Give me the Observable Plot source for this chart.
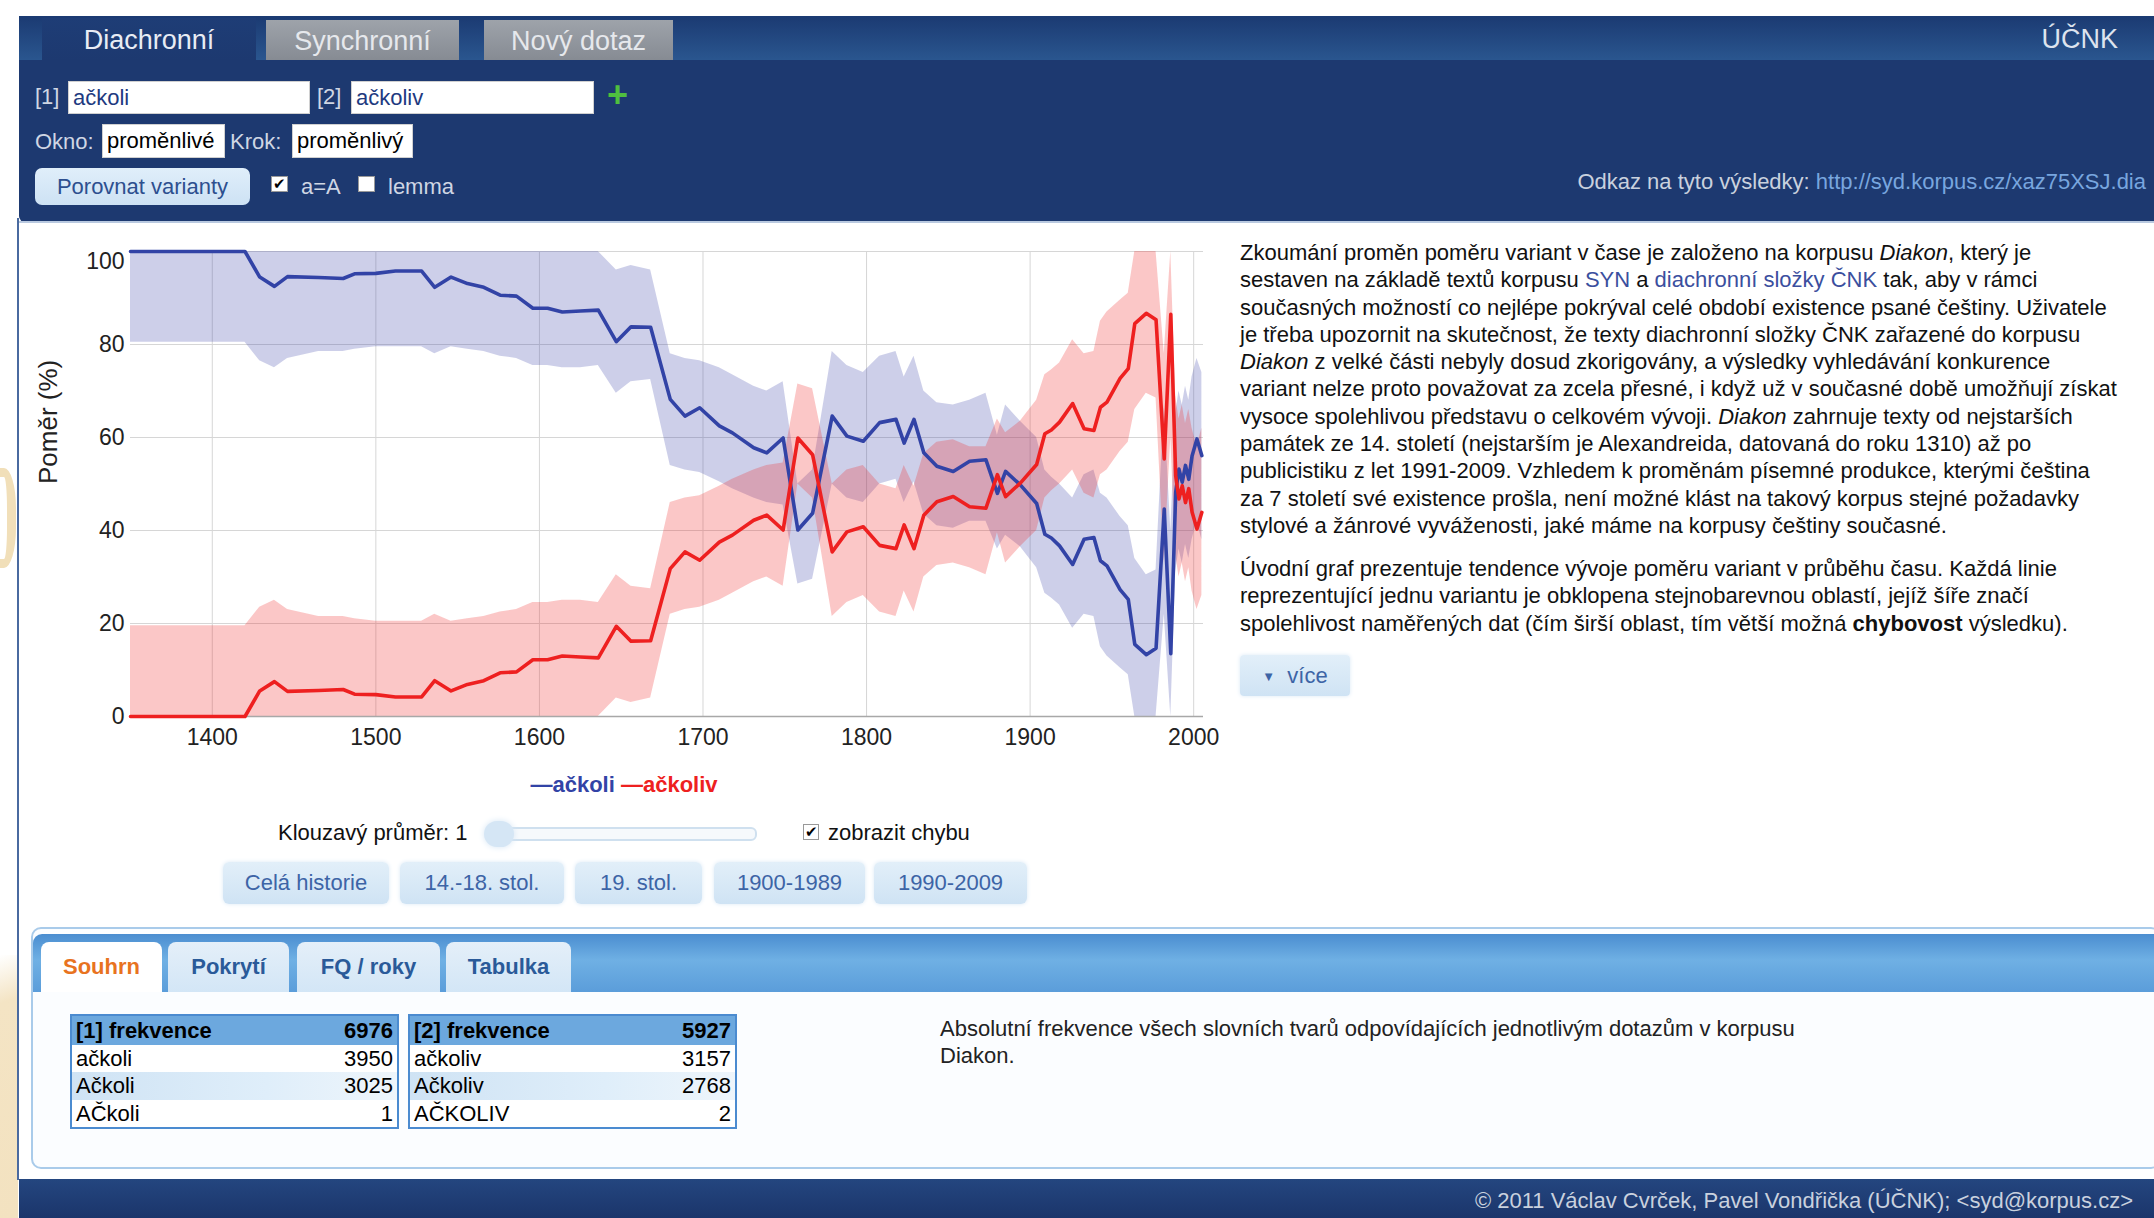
<!DOCTYPE html>
<html><head><meta charset="utf-8">
<script src="https://cdn.jsdelivr.net/npm/d3@7"></script>
<script src="https://cdn.jsdelivr.net/npm/@observablehq/plot@0.6"></script>
<style>
html,body{margin:0;padding:0;width:2154px;height:1218px;overflow:hidden;background:#fff;font-family:"Liberation Sans",Arial,sans-serif;}
.a{position:absolute;white-space:nowrap;}
.hd{color:#cfd6e4;font-size:22px;}
.inp{background:#fff;border:1px solid #d0d0d0;box-sizing:border-box;font-size:22px;padding-left:4px;}
.cb{background:#fff;border:1px solid #999;box-sizing:border-box;font-size:15px;line-height:14px;text-align:center;color:#000;}
.btn{background:linear-gradient(#e2eff9,#cfe3f4);border-radius:6px;color:#3d64a6;font-size:22px;text-align:center;box-shadow:0 0 4px #dbe9f6;}
.tab{border-radius:8px 8px 0 0;font-size:22px;font-weight:bold;text-align:center;line-height:50px;}
.tbl{border:2px solid #4b8bd0;box-sizing:border-box;font-size:22px;}
.tbl div{height:27.3px;line-height:27.3px;padding:0 4px;display:flex;justify-content:space-between;}
.txt{font-size:22px;line-height:27.3px;color:#111;}
.txt a{color:#3b4f9e;text-decoration:none;}
</style></head><body>
<script>
// ---- chart data ----
const years = [1350,1420,1429,1438,1446,1465,1480,1487,1500,1512,1528,1536,1546,1556,1566,1576,1586,1596,1605,1614,1625,1636,1647,1656,1668,1680,1689,1698,1710,1718,1731,1739,1749,1758,1767,1779,1788,1798,1808,1818,1823,1829,1835,1843,1853,1863,1873,1880,1885,1894,1904,1909,1913,1918,1926,1933,1939,1943,1947,1955,1960,1964,1971,1977,1982,1986,1989,1991,1993,1995,1997,1999,2002,2005];
const ackoli = [100,100,94.5,92.5,94.6,94.4,94.2,95.2,95.3,95.8,95.8,92.3,94.5,93.1,92.3,90.6,90.4,87.8,87.8,87.0,87.2,87.4,80.6,83.8,83.7,68.2,64.6,66.4,62.5,61.0,57.8,56.7,59.9,40.1,43.7,64.6,60.3,59.2,63.2,63.9,58.8,63.9,56.7,53.8,52.7,54.9,55.2,48.0,52.7,49.8,45.8,39.2,38.4,36.7,32.7,38.1,38.5,33.5,32.4,27.3,25.2,15.5,13.3,14.7,44.6,13.5,48.2,53.2,50.4,54.0,51.0,56.0,59.7,56.1];
const ackoliv = [0,0,5.5,7.5,5.4,5.6,5.8,4.8,4.7,4.2,4.2,7.7,5.5,6.9,7.7,9.4,9.6,12.2,12.2,13.0,12.8,12.6,19.4,16.2,16.3,31.8,35.4,33.6,37.5,39.0,42.2,43.3,40.1,59.9,56.3,35.4,39.7,40.8,36.8,36.1,41.2,36.1,43.3,46.2,47.3,45.1,44.8,52.0,47.3,50.2,54.2,60.8,61.6,63.3,67.3,61.9,61.5,66.5,67.6,72.7,74.8,84.5,86.7,85.3,55.4,86.5,51.8,46.8,49.6,46.0,49.0,44.0,40.3,43.9];
const ackoliLo = [80.5,80.5,76.5,75,77,78.5,78.5,79,79.5,79.5,79.5,78,79.5,79,78.5,77.5,77,75.5,75.5,75,75,75.5,69.5,72,72.5,54,53,52.5,50.5,49,47,46,45.5,28.5,29.5,50,47,46,50,51,46,50.5,43.5,41,40.5,42,42,36,39,36.5,32,26.5,25.5,24,19,22,21.5,15,13,10.5,9,0,0,0,22,0,31,36,33,37,34,38,42,38];
const ackoliHi = [100,100,100,100,100,100,100,100,100,100,100,100,100,100,100,100,100,100,100,100,100,100,96,97,96,78,77,76.5,75,73.5,71,70,72,50,53,78.5,75.5,74,77.5,78.5,73,77.5,70,67.5,67,68,69.5,60.5,67,63.5,60,53,51.5,50,47,52,53,48,47,43,41,34,30.5,31.5,67,40,65,70,67,71,68,73,77,74];
const ackolivLo = [0,0,0,0,0,0,0,0,0,0,0,0,0,0,0,0,0,0,0,0,0,0,4,3,4,22,23,23.5,25,26.5,29,30,28,50,47,21.5,24.5,26,22.5,21.5,27,22.5,30,32.5,33,32,30.5,39.5,33,36.5,40,47,48.5,50,53,48,47,52,53,57,59,66,69.5,68.5,33,60,35,30,33,29,32,27,23,26];
const ackolivHi = [19.5,19.5,23.5,25,23,21.5,21.5,21,20.5,20.5,20.5,22,20.5,21,21.5,22.5,23,24.5,24.5,25,25,24.5,30.5,28,27.5,46,47,47.5,49.5,51,53,54,54.5,71.5,70.5,50,53,54,50,49,54,49.5,56.5,59,59.5,58,58,64,61,63.5,68,73.5,74.5,76,81,78,78.5,85,87,89.5,91,100,100,100,78,100,69,64,67,63,66,62,58,62];
const xTicks = [1400,1500,1600,1700,1800,1900,2000];
const yTicks = [0,20,40,60,80,100];
const seriesNames = ["ačkoli","ačkoliv"];
// ---- summary tables ----
const table1 = [["[1] frekvence",6976],["ačkoli",3950],["Ačkoli",3025],["AČkoli",1]];
const table2 = [["[2] frekvence",5927],["ačkoliv",3157],["Ačkoliv",2768],["AČKOLIV",2]];
</script>

<!-- left decoration -->
<div class="a" style="left:-14px;top:468px;width:30px;height:100px;border:9px solid #f1dfb9;border-radius:40%;box-sizing:border-box;"></div>
<div class="a" style="left:0;top:955px;width:18px;height:263px;background:linear-gradient(160deg,#fff 0%,#f4e4c4 18%,#f3e2c0 100%);"></div>
<div class="a" style="left:17px;top:218px;width:2px;height:962px;background:#4a6aa0;"></div>

<!-- header -->
<div class="a" style="left:19px;top:16px;width:2135px;height:206px;background:#1d3970;border-radius:4px 0 0 6px;"></div>
<div class="a" style="left:19px;top:16px;width:2135px;height:44px;background:linear-gradient(#1b3a72,#2a568f);"></div>
<div class="a" style="left:42px;top:18px;width:214px;height:42px;background:linear-gradient(#1e3d76,#1d3970);color:#e8ecf4;font-size:27px;text-align:center;line-height:44px;">Diachronní</div>
<div class="a" style="left:266px;top:20px;width:193px;height:40px;background:linear-gradient(#9ea3aa,#868b93);color:#e6e8ec;font-size:27px;text-align:center;line-height:42px;">Synchronní</div>
<div class="a" style="left:484px;top:20px;width:189px;height:40px;background:linear-gradient(#9ea3aa,#868b93);color:#e6e8ec;font-size:27px;text-align:center;line-height:42px;">Nový dotaz</div>
<div class="a" style="right:36px;top:24px;color:#dde3ee;font-size:27px;">ÚČNK</div>

<div class="a hd" style="left:35px;top:84px;">[1]</div>
<div class="a inp" style="left:68px;top:81px;width:242px;height:33px;color:#1e3a80;line-height:31px;">ačkoli</div>
<div class="a hd" style="left:317px;top:84px;">[2]</div>
<div class="a inp" style="left:351px;top:81px;width:243px;height:33px;color:#1e3a80;line-height:31px;">ačkoliv</div>
<div class="a" style="left:607px;top:74px;color:#4fbf3f;font-size:36px;font-weight:bold;">+</div>

<div class="a hd" style="left:35px;top:129px;">Okno:</div>
<div class="a inp" style="left:102px;top:124px;width:123px;height:34px;color:#000;line-height:32px;">proměnlivé</div>
<div class="a hd" style="left:230px;top:129px;">Krok:</div>
<div class="a inp" style="left:292px;top:124px;width:121px;height:34px;color:#000;line-height:32px;">proměnlivý</div>

<div class="a" style="left:35px;top:168px;width:215px;height:37px;background:linear-gradient(#e0eefa,#cde2f4);border-radius:7px;color:#2d4f8f;font-size:22px;text-align:center;line-height:37px;">Porovnat varianty</div>
<div class="a cb" style="left:271px;top:176px;width:17px;height:16px;">✔</div>
<div class="a hd" style="left:301px;top:174px;">a=A</div>
<div class="a cb" style="left:358px;top:176px;width:17px;height:16px;"></div>
<div class="a hd" style="left:388px;top:174px;">lemma</div>
<div class="a" style="right:8px;top:169px;font-size:22px;color:#c9d1de;">Odkaz na tyto výsledky: <span style="color:#78a6df;">http://syd.korpus.cz/xaz75XSJ.dia</span></div>
<div class="a" style="left:19px;top:221px;width:2135px;height:2px;background:#b9c9e0;"></div>

<div id="chart"></div>

<div class="a" style="left:0;top:772px;width:1248px;text-align:center;font-size:22px;font-weight:bold;" id="legend"></div>

<div class="a" style="left:278px;top:820px;font-size:22px;color:#111;">Klouzavý průměr: 1</div>
<div class="a" style="left:500px;top:827px;width:253px;height:10px;border:2px solid #cfe0ef;border-radius:6px;background:#f6f9fc;"></div>
<div class="a" style="left:484px;top:821px;width:30px;height:26px;border-radius:13px;background:#d5e6f5;box-shadow:0 0 6px #d5e6f5;"></div>
<div class="a cb" style="left:803px;top:824px;width:16px;height:16px;">✔</div>
<div class="a" style="left:828px;top:820px;font-size:22px;color:#111;">zobrazit chybu</div>

<div class="a btn" style="left:223px;top:862px;width:166px;height:42px;line-height:42px;">Celá historie</div>
<div class="a btn" style="left:400px;top:862px;width:164px;height:42px;line-height:42px;">14.-18. stol.</div>
<div class="a btn" style="left:575px;top:862px;width:127px;height:42px;line-height:42px;">19. stol.</div>
<div class="a btn" style="left:714px;top:862px;width:151px;height:42px;line-height:42px;">1900-1989</div>
<div class="a btn" style="left:874px;top:862px;width:153px;height:42px;line-height:42px;">1990-2009</div>

<div class="a txt" style="left:1240px;top:239px;">
Zkoumání proměn poměru variant v čase je založeno na korpusu <i>Diakon</i>, který je<br>
sestaven na základě textů korpusu <a>SYN</a> a <a>diachronní složky ČNK</a> tak, aby v rámci<br>
současných možností co nejlépe pokrýval celé období existence psané češtiny. Uživatele<br>
je třeba upozornit na skutečnost, že texty diachronní složky ČNK zařazené do korpusu<br>
<i>Diakon</i> z velké části nebyly dosud zkorigovány, a výsledky vyhledávání konkurence<br>
variant nelze proto považovat za zcela přesné, i když už v současné době umožňují získat<br>
vysoce spolehlivou představu o celkovém vývoji. <i>Diakon</i> zahrnuje texty od nejstarších<br>
památek ze 14. století (nejstarším je Alexandreida, datovaná do roku 1310) až po<br>
publicistiku z let 1991-2009. Vzhledem k proměnám písemné produkce, kterými čeština<br>
za 7 století své existence prošla, není možné klást na takový korpus stejné požadavky<br>
stylové a žánrové vyváženosti, jaké máme na korpusy češtiny současné.
</div>
<div class="a txt" style="left:1240px;top:555px;">
Úvodní graf prezentuje tendence vývoje poměru variant v průběhu času. Každá linie<br>
reprezentující jednu variantu je obklopena stejnobarevnou oblastí, jejíž šíře značí<br>
spolehlivost naměřených dat (čím širší oblast, tím větší možná <b>chybovost</b> výsledku).
</div>
<div class="a btn" style="left:1240px;top:655px;width:110px;height:41px;line-height:41px;border-radius:4px;"><span style="font-size:13px;vertical-align:2px;">▼</span>&nbsp; více</div>

<!-- bottom panel -->
<div class="a" style="left:31px;top:927px;width:2130px;height:242px;border:2px solid #a9cbea;border-radius:10px;background:#fbfdff;box-sizing:border-box;"></div>
<div class="a" style="left:33px;top:934px;width:2121px;height:58px;border-radius:9px 0 0 0;background:linear-gradient(#4a8dd0,#6fb0e4 45%,#5b9dda);"></div>
<div class="a tab" style="left:41px;top:942px;width:121px;height:50px;background:#fff;color:#e8731f;">Souhrn</div>
<div class="a tab" style="left:168px;top:942px;width:121px;height:50px;background:linear-gradient(#e4eff9,#d3e6f6);color:#2a5a99;">Pokrytí</div>
<div class="a tab" style="left:297px;top:942px;width:143px;height:50px;background:linear-gradient(#e4eff9,#d3e6f6);color:#2a5a99;">FQ / roky</div>
<div class="a tab" style="left:446px;top:942px;width:125px;height:50px;background:linear-gradient(#e4eff9,#d3e6f6);color:#2a5a99;">Tabulka</div>
<div class="a tbl" style="left:70px;top:1014px;width:329px;" id="t1"></div>
<div class="a tbl" style="left:408px;top:1014px;width:329px;" id="t2"></div>
<div class="a txt" style="left:940px;top:1015px;color:#222;">Absolutní frekvence všech slovních tvarů odpovídajících jednotlivým dotazům v korpusu<br>Diakon.</div>

<!-- footer -->
<div class="a" style="left:19px;top:1179px;width:2135px;height:39px;background:linear-gradient(#24467f,#1b356b);"></div>
<div class="a" style="right:21px;top:1188px;font-size:22px;color:#c9d1de;">© 2011 Václav Cvrček, Pavel Vondřička (ÚČNK); &lt;syd@korpus.cz&gt;</div>

<script>
const rows = years.map((year, i) => ({
  year,
  blue: ackoli[i], red: ackoliv[i],
  bLo: ackoliLo[i], bHi: ackoliHi[i],
  rLo: ackolivLo[i], rHi: ackolivHi[i]
}));
const BLUE = "#3243a6", RED = "#ee2020";
const svg = Plot.plot({
  width: 1230, height: 540,
  marginLeft: 130, marginRight: 27, marginTop: 21, marginBottom: 54,
  x: {domain: [1350, 2006]},
  y: {domain: [0, 100]},
  style: {fontFamily: "Liberation Sans, Arial, sans-serif", fontSize: "23px", color: "#222", background: "transparent", overflow: "visible"},
  marks: [
    Plot.gridY(yTicks, {stroke: "#d6d6d6", strokeOpacity: 1}),
    Plot.gridX(xTicks, {stroke: "#d6d6d6", strokeOpacity: 1}),
    Plot.areaY(rows, {x: "year", y1: "bLo", y2: "bHi", fill: "#3c46aa", fillOpacity: 0.26}),
    Plot.areaY(rows, {x: "year", y1: "rLo", y2: "rHi", fill: "#f02828", fillOpacity: 0.26}),
    Plot.ruleY([0], {stroke: "#a8a8a8", strokeWidth: 1.5}),
    Plot.lineY(rows, {x: "year", y: "blue", stroke: BLUE, strokeWidth: 3.6}),
    Plot.lineY(rows, {x: "year", y: "red", stroke: RED, strokeWidth: 3.6}),
    Plot.axisX(xTicks, {tickSize: 0, tickPadding: 12, tickFormat: d => String(d), label: null}),
    Plot.axisY(yTicks.slice(0, 5), {tickSize: 0, tickPadding: 6, label: null}),
    Plot.axisY([100], {tickSize: 0, tickPadding: 6, dy: 10, label: null}),
    Plot.text(["Poměr (%)"], {text: d => d, frameAnchor: "left", dx: -82, rotate: -90, fontSize: 26, fill: "#222"})
  ]
});
svg.style.position = "absolute";
svg.style.left = "0px";
svg.style.top = "230px";
document.getElementById("chart").appendChild(svg);

document.getElementById("legend").innerHTML =
  `<span style="color:${BLUE}">—${seriesNames[0]}</span> <span style="color:${RED}">—${seriesNames[1]}</span>`;

function fillTable(id, data) {
  const el = document.getElementById(id);
  data.forEach((r, i) => {
    const d = document.createElement("div");
    if (i === 0) { d.style.background = "#6ca8de"; d.style.fontWeight = "bold"; d.style.height = "29px"; d.style.lineHeight = "29px"; }
    else if (i === 2) d.style.background = "linear-gradient(90deg,#cfe3f4,#dfeefa 60%,#eef5fb)";
    else d.style.background = "#fff";
    d.innerHTML = `<span>${r[0]}</span><span>${r[1]}</span>`;
    el.appendChild(d);
  });
}
fillTable("t1", table1);
fillTable("t2", table2);
</script>
</body></html>
